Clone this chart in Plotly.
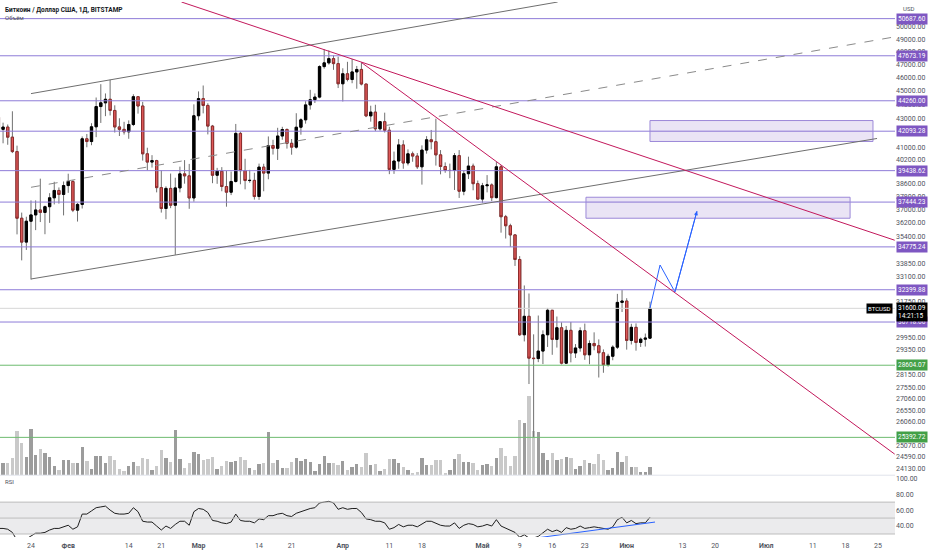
import numpy as np
import pandas as pd
import plotly.graph_objects as go

# BTC/USD daily, Bitstamp, 17 Jan - 6 Jun 2022
dates = pd.date_range("2022-01-17", "2022-06-06", freq="D")

open_ = [43080, 42220, 42380, 41680, 40700, 36460, 35050, 36280, 36660, 36960, 36810, 37160, 37710, 38170, 37920,
         38480, 38740, 36950, 37300, 41570, 41380, 42400, 43840, 44110, 44370, 43560, 42390, 42220, 42050, 42560,
         44560, 43880, 40550, 40000, 40100, 38350, 37050, 38300, 37250, 38330, 39230, 39100, 37700,
         43180, 44420, 43920, 42450, 39140, 39400, 38420, 38060, 38740, 41940, 39440, 38800, 38810, 37790, 39670,
         39280, 41110, 40920, 41760, 42210, 41260, 41000, 42370, 42890, 43960, 44340, 44530, 46830, 47120, 47450, 47060,
         45520, 46280, 45840, 46420, 46610, 45500, 43170, 43440, 42260, 42760, 42160, 39520, 40070, 41150, 39940,
         40550, 40400, 39690, 40800, 41500, 41370, 40480, 39710, 39450, 39450, 40430, 38120, 39240, 39740, 38600,
         37630, 38470, 38520, 37720, 39690, 36550, 36010, 35470, 34060, 30080, 31010, 28940, 28920, 29280, 30080,
         31320, 29850, 30430, 28700, 30300, 29190, 29430, 30280, 29100, 29650, 29540, 29200, 28630, 29030, 29470, 31730,
         31800, 29800, 30450, 29700, 29860, 29910]
high = [43180, 42690, 42560, 43500, 41100, 36800, 36550, 37550, 37550, 38920, 37230, 38000, 38720, 38360, 38740,
        39240, 38830, 37390, 41730, 41900, 42650, 44500, 45490, 44800, 45820, 43930, 43000, 42750, 42850, 44740,
        44590, 44180, 40960, 40460, 40150, 39460, 38430, 39250, 38980, 39700, 40130, 39880, 44000,
        44950, 45390, 44080, 42530, 39620, 39670, 39420, 39380, 42600, 42050, 40220, 39490, 39300, 39900, 39890,
        41730, 41500, 42330, 42400, 42290, 41550, 43360, 43000, 44230, 45070, 44800, 46930, 48190, 48100, 47700, 47600,
        46700, 47200, 47420, 46880, 47150, 45500, 43900, 43970, 42800, 43400, 42400, 40700, 41550, 41470, 40850,
        40700, 40600, 41120, 41750, 42180, 42970, 40800, 39980, 39900, 40600, 40800, 39450, 40360, 39900, 38800,
        38650, 39150, 38620, 40000, 39800, 36660, 36130, 35500, 34250, 32630, 32200, 30100, 31050, 30300, 31440,
        31320, 31000, 30700, 30520, 30720, 29620, 30450, 30640, 29800, 30200, 29850, 29360, 29150, 29560, 32180, 32380,
        31950, 30630, 30650, 29940, 30140, 31770]
low = [41540, 41260, 41160, 40600, 35500, 34010, 34600, 32950, 35750, 36230, 35510, 36180, 37300, 37350, 36630,
       38020, 36830, 36260, 37050, 40990, 41130, 41680, 42670, 43150, 43200, 42000, 41760, 41860, 41570, 42450,
       43330, 40100, 39460, 39640, 38050, 36800, 36400, 37070, 34320, 38050, 38600, 37030, 37470,
       42850, 43350, 41870, 38630, 38590, 38120, 37160, 37880, 38670, 38560, 38240, 38660, 37600, 37580, 38120,
       38880, 40500, 40140, 41500, 40900, 40490, 40900, 41850, 42620, 43620, 44100, 44440, 46670, 46980, 46580, 45200,
       44210, 45700, 45560, 45150, 45400, 43080, 42760, 42100, 42130, 42000, 39210, 39230, 39560, 39560, 39780,
       40020, 39550, 38540, 40560, 40850, 39770, 39200, 39300, 38950, 38200, 37700, 37870, 38900, 38180, 37600,
       37400, 38050, 37500, 37670, 35600, 35260, 34780, 33700, 30020, 29750, 27730, 25393, 28750, 28660, 29480,
       29100, 29450, 28640, 28670, 28740, 28950, 29250, 28860, 28650, 29320, 28030, 28250, 28540, 28840, 29380, 31230,
       29350, 29600, 29300, 29480, 29500, 29880]
close = [42220, 42380, 41680, 40700, 36460, 35050, 36280, 36660, 36960, 36810, 37160, 37710, 38170, 37920, 38480,
         38740, 36950, 37300, 41570, 41380, 42400, 43840, 44110, 44370, 43560, 42390, 42220, 42050, 42560, 44560,
         43880, 40550, 40000, 40100, 38350, 37050, 38300, 37250, 38330, 39230, 39100, 37700, 43180,
         44420, 43920, 42450, 39140, 39400, 38420, 38060, 38740, 41940, 39440, 38800, 38810, 37790, 39670, 39280,
         41110, 40920, 41760, 42210, 41260, 41000, 42370, 42890, 43960, 44340, 44530, 46830, 47120, 47450, 47060, 45520,
         46280, 45840, 46420, 46610, 45500, 43170, 43440, 42260, 42760, 42160, 39520, 40070, 41150, 39940, 40550,
         40400, 39690, 40800, 41500, 41370, 40480, 39710, 39450, 39450, 40430, 38120, 39240, 39740, 38600, 37630,
         38470, 38520, 37720, 39690, 36550, 36010, 35470, 34060, 30080, 31010, 28940, 28920, 29280, 30080, 31320,
         29850, 30430, 28700, 30300, 29190, 29430, 30280, 29100, 29650, 29540, 29200, 28630, 29030, 29470, 31730, 31800,
         29800, 30450, 29700, 29860, 29910, 31420]
volume = [10, 12, 12, 17, 44, 32, 18, 46, 20, 26, 22, 18, 9, 5, 15,
          15, 12, 12, 28, 14, 6, 19, 19, 12, 19, 15, 6, 4, 9, 13, 9, 17, 16, 5, 9, 25, 17, 13, 45, 16, 7, 12, 23,
          21, 15, 16, 18, 6, 9, 14, 13, 14, 18, 15, 7, 5, 11, 12, 43, 12, 15, 7, 7, 13, 17, 14, 16, 13, 4, 11, 19, 12, 12, 10,
          14, 5, 8, 11, 8, 22, 10, 11, 4, 6, 16, 16, 12, 8, 5, 2, 3, 17, 10, 10, 15, 15, 2, 5, 16, 21, 13, 13, 12, 5,
          10, 11, 9, 17, 27, 19, 9, 19, 55, 52, 80, 44, 43, 22, 15, 22, 15, 16, 18, 17, 6, 9, 15, 12, 11, 21, 15, 5, 7, 23, 13,
          19, 8, 8, 3, 3, 8]
rsi = [37, 37, 36, 32, 22, 18, 24, 28, 31, 31, 32, 35, 37, 37, 39,
       41, 36, 39, 55, 55, 59, 63, 64, 65, 60, 56, 55, 55, 56, 63, 58, 46, 45, 45, 40, 35, 40, 37, 42, 46, 46, 41, 58,
       62, 61, 57, 47, 46, 44, 43, 45, 55, 47, 46, 46, 44, 49, 48, 53, 53, 55, 56, 53, 52, 56, 58, 60, 62, 63, 69, 70, 71, 69, 61,
       63, 61, 62, 62, 57, 49, 48, 46, 46, 44, 36, 38, 42, 39, 41, 41, 39, 43, 46, 46, 43, 41, 40, 40, 44, 37, 41, 43, 42, 39,
       40, 42, 40, 48, 40, 37, 35, 32, 26, 29, 25, 25, 27, 31, 36, 33, 35, 32, 38, 36, 37, 40, 37, 38, 39, 38, 37, 36, 39, 48, 51,
       44, 47, 43, 44, 44, 51]

purple_levels = [50687.60, 47673.19, 44260.00, 42093.28, 39438.62, 37444.23, 34775.24, 32399.88, 30718.66]
green_levels = [28604.07, 25392.72]
# axis ticks that are not hidden under the level boxes
price_ticks = [50000, 49000, 48000, 47000, 46000, 45000, 44000, 43000, 41000, 40200, 38600, 37800,
               37000, 36200, 35400, 33850, 33100, 31750, 29950, 29350, 28150,
               27550, 27060, 26550, 26060, 25070, 24590, 24130]
rsi_ticks = [40, 60, 80, 100]
x_ticks = ["2022-01-24", "2022-02-01", "2022-02-14", "2022-02-21", "2022-03-01", "2022-03-14", "2022-03-21",
           "2022-04-01", "2022-04-11", "2022-04-18", "2022-05-01", "2022-05-09", "2022-05-16", "2022-05-23",
           "2022-06-01", "2022-06-13", "2022-06-20", "2022-07-01", "2022-07-11", "2022-07-18", "2022-07-25"]
x_labels = ["24", "<b>Фев</b>", "14", "21", "<b>Мар</b>", "14", "21", "<b>Апр</b>", "11", "18", "<b>Май</b>",
            "9", "16", "23", "<b>Июн</b>", "13", "20", "<b>Июл</b>", "11", "18", "25"]

# drawings on the chart: (dates, prices)
channel_top = (["2022-01-24", "2022-05-17 04:00"], [44786, 52099])
channel_bottom = (["2022-01-24", "2022-07-24 19:00"], [32980, 41590])
channel_mid = (["2022-01-24", "2022-07-28 14:00"], [38370, 49184])
trend_a = (["2022-02-25 08:00", "2022-07-28 14:00"], [52099, 35160])
trend_b = (["2022-04-05", "2022-07-28 14:00"], [47150, 24700])
path_x = ["2022-06-06", "2022-06-08 04:00", "2022-06-11 09:00", "2022-06-16 02:30"]
path_y = [31420, 33750, 32280, 36890]
zone_1 = (["2022-06-06", "2022-07-23 22:00"], [41385, 42840])
zone_2 = (["2022-05-23 06:00", "2022-07-19"], [36460, 37745])
rsi_trend = (["2022-05-12 14:00", "2022-06-07 02:00"], [25, 45])

PURPLE = "#7E57C2"
GREEN = "#43A047"
AXIS_TXT = "#50535E"

fig = go.Figure()

up = [c >= o for o, c in zip(open_, close)]
fig.add_trace(go.Bar(x=dates, y=volume, yaxis="y",
                     marker_color=["#9C9C9C" if u else "#C9C9C9" for u in up],
                     marker_line_width=0, width=0.72 * 86400000))

# wicks
fig.add_trace(go.Candlestick(x=dates, open=open_, high=high, low=low, close=close, yaxis="y2",
                             increasing=dict(line=dict(color="#707070", width=1), fillcolor="rgba(0,0,0,0)"),
                             decreasing=dict(line=dict(color="#707070", width=1), fillcolor="rgba(0,0,0,0)"),
                             whiskerwidth=0))
# bodies
body_hi = [max(o, c) for o, c in zip(open_, close)]
body_lo = [min(o, c) for o, c in zip(open_, close)]
fig.add_trace(go.Candlestick(x=dates, open=open_, high=body_hi, low=body_lo, close=close, yaxis="y2",
                             increasing=dict(line=dict(color="#000000", width=1), fillcolor="#000000"),
                             decreasing=dict(line=dict(color="#8E2B2B", width=1), fillcolor="#E05A5A"),
                             whiskerwidth=0))

fig.add_trace(go.Scatter(x=dates, y=rsi, yaxis="y3", mode="lines",
                         line=dict(color="#1E1E1E", width=1)))
fig.add_trace(go.Scatter(x=rsi_trend[0], y=rsi_trend[1], yaxis="y3", mode="lines",
                         line=dict(color="#2962FF", width=1)))
fig.add_trace(go.Scatter(x=path_x, y=path_y, yaxis="y2", mode="lines",
                         line=dict(color="#2962FF", width=1)))

shapes = []
# RSI band
shapes.append(dict(type="rect", xref="paper", x0=0, x1=1, yref="y3", y0=30, y1=70,
                   fillcolor="rgba(120,123,134,0.15)", line=dict(width=0), layer="below"))
for v in [30, 50, 70]:
    shapes.append(dict(type="line", xref="paper", x0=0, x1=1, yref="y3", y0=v, y1=v,
                       line=dict(color="#BDBDBD", width=1)))
# pane separator
shapes.append(dict(type="line", xref="paper", x0=0, x1=1, yref="paper", y0=0.1155, y1=0.1155,
                   line=dict(color="#E0E3EB", width=1)))
# current price line
shapes.append(dict(type="line", xref="paper", x0=0, x1=1, yref="y2", y0=close[-1], y1=close[-1],
                   line=dict(color="#D6D6D6", width=1)))
for lv in purple_levels:
    shapes.append(dict(type="line", xref="paper", x0=0, x1=1, yref="y2", y0=lv, y1=lv,
                       line=dict(color="#8E7CD8", width=1)))
for lv in green_levels:
    shapes.append(dict(type="line", xref="paper", x0=0, x1=1, yref="y2", y0=lv, y1=lv,
                       line=dict(color="#6DBB70", width=1)))
for z in [zone_1, zone_2]:
    shapes.append(dict(type="rect", xref="x", yref="y2", x0=z[0][0], x1=z[0][1], y0=z[1][0], y1=z[1][1],
                       fillcolor="rgba(126,87,194,0.16)", line=dict(color="#9C88D8", width=1)))
for ln, col, dash in [(channel_top, "#6E6E6E", "solid"), (channel_bottom, "#6E6E6E", "solid"),
                      (channel_mid, "#8A8A8A", "dash"), (trend_a, "#C2185B", "solid"),
                      (trend_b, "#C2185B", "solid")]:
    shapes.append(dict(type="line", xref="x", yref="y2", x0=ln[0][0], x1=ln[0][1], y0=ln[1][0], y1=ln[1][1],
                       line=dict(color=col, width=1, dash=dash)))

annotations = []
for lv, col in [(v, PURPLE) for v in purple_levels] + [(v, GREEN) for v in green_levels]:
    annotations.append(dict(xref="paper", x=1, xanchor="left", xshift=1, yref="y2", y=np.log10(lv),
                            text=f"{lv:.2f}", showarrow=False, bgcolor=col, borderpad=1,
                            font=dict(color="white", size=6.5)))
annotations.append(dict(xref="paper", x=1, xanchor="left", xshift=1, yref="y2", y=np.log10(close[-1]),
                        yshift=-4, text="31600.09<br>14:21:15", showarrow=False, bgcolor="#000000",
                        borderpad=1, align="left", font=dict(color="white", size=6.5)))
annotations.append(dict(xref="paper", x=1, xanchor="right", xshift=-2, yref="y2", y=np.log10(close[-1]),
                        text="BTCUSD", showarrow=False, bgcolor="#000000", borderpad=1,
                        font=dict(color="white", size=6)))
annotations.append(dict(x=path_x[-1], y=np.log10(path_y[-1]), xref="x", yref="y2",
                        ax=path_x[-2], ay=np.log10(path_y[-2]), axref="x", ayref="y2",
                        text="", showarrow=True, arrowhead=2, arrowsize=0.8, arrowwidth=1,
                        arrowcolor="#2962FF"))
annotations.append(dict(xref="paper", yref="paper", x=0, y=1, xanchor="left", yanchor="top", xshift=3,
                        yshift=-2, text="<b>Биткоин / Доллар США, 1Д, BITSTAMP</b>", showarrow=False,
                        font=dict(color="#131722", size=6.5)))
annotations.append(dict(xref="paper", yref="paper", x=0, y=1, xanchor="left", yanchor="top", xshift=3,
                        yshift=-10, text="Объём", showarrow=False, font=dict(color="#50535E", size=6)))
annotations.append(dict(xref="paper", yref="paper", x=0, y=0.1136, xanchor="left", yanchor="top", xshift=3,
                        yshift=0, text="RSI", showarrow=False, font=dict(color="#50535E", size=6)))
annotations.append(dict(xref="paper", yref="paper", x=1, y=1, xanchor="left", yanchor="top", xshift=6,
                        yshift=-1, text="USD", showarrow=False, font=dict(color="#50535E", size=6)))

fig.update_layout(
    width=932, height=550,
    margin=dict(l=0, r=37, t=0, b=13),
    paper_bgcolor="white", plot_bgcolor="white",
    font=dict(family="Roboto", color=AXIS_TXT),
    showlegend=False, hovermode=False, bargap=0,
    shapes=shapes, annotations=annotations,
    xaxis=dict(type="date", range=["2022-01-17 08:10", "2022-07-28 15:36"], anchor="y3",
               tickvals=x_ticks, ticktext=x_labels, tickfont=dict(size=7, color=AXIS_TXT),
               ticklabelstandoff=3,
               showgrid=False, zeroline=False, showline=False, ticks="",
               rangeslider=dict(visible=False)),
    yaxis=dict(domain=[0.1155, 1], range=[0, 475], visible=False, fixedrange=True),
    yaxis2=dict(overlaying="y", side="right", type="log", range=[np.log10(23855), np.log10(52099)],
                tickvals=price_ticks, ticktext=[f"{t:.2f}" for t in price_ticks],
                tickfont=dict(size=7, color=AXIS_TXT), showgrid=False, zeroline=False, ticks=""),
    yaxis3=dict(domain=[0, 0.1136], range=[26.25, 102.5], side="right", anchor="x",
                tickvals=rsi_ticks, ticktext=[f"{t:.2f}" for t in rsi_ticks],
                tickfont=dict(size=7, color=AXIS_TXT), showgrid=False, zeroline=False, ticks=""),
)

# the page body has a default 8px margin; drop it so the chart fills the window
fig.write_html("out.html", config={"displayModeBar": False},
               post_script="document.body.style.margin='0px';")
